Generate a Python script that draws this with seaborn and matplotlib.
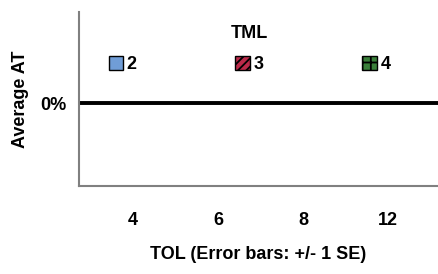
import pandas as pd
import matplotlib
matplotlib.use("Agg")
import matplotlib.pyplot as plt
import seaborn as sns

# data: all group means sit at 0%
tol_levels = ["4", "6", "8", "12"]
tml_levels = ["2", "3", "4"]
avg_at = [0.0, 0.0, 0.0,
          0.0, 0.0, 0.0,
          0.0, 0.0, 0.0,
          0.0, 0.0, 0.0]

colors = ["#5f9be8", "#d3123c", "#2e8b2e"]
hatches = ["", "////", "++"]

df = pd.DataFrame({
    "TOL": [t for t in tol_levels for _ in tml_levels],
    "TML": [m for _ in tol_levels for m in tml_levels],
    "AT": avg_at,
})

sns.set_theme(style="white")
plt.rcParams["font.family"] = ["Liberation Sans", "DejaVu Sans"]
plt.rcParams["font.weight"] = "bold"
plt.rcParams["text.color"] = "black"
plt.rcParams["xtick.color"] = "black"
plt.rcParams["ytick.color"] = "black"
plt.rcParams["axes.labelcolor"] = "black"
plt.rcParams["hatch.linewidth"] = 1.3

FS = 13

fig = plt.figure(figsize=(4.38, 2.74), dpi=100)
ax = fig.add_axes([79 / 438, 88 / 274, 1 - 79 / 438, 174 / 274])

sns.barplot(data=df, x="TOL", y="AT", hue="TML", order=tol_levels,
            hue_order=tml_levels, palette=colors, edgecolor="black",
            linewidth=1, errorbar=None, ax=ax)

handles, labels = ax.get_legend_handles_labels()
for h, hatch in zip(handles, hatches):
    h.set_hatch(hatch)
    h.set_edgecolor("black")
ax.legend(handles, labels, title="TML", ncol=3, frameon=False,
          loc="upper center", bbox_to_anchor=(0.475, 0.965),
          prop={"weight": "bold", "size": FS},
          title_fontproperties={"weight": "bold", "size": FS},
          handlelength=0.8, handleheight=0.8, handletextpad=0.2,
          columnspacing=5.47, borderaxespad=0, labelspacing=0.75)

ax.axhline(0, color="black", linewidth=2.8)
ax.set_ylim(-1.0, 1.1)
ax.set_xlim(-0.635, 3.59)
ax.set_yticks([0])
ax.set_yticklabels(["0%"], fontweight="bold")
ax.set_xticks(range(len(tol_levels)))
ax.set_xticklabels(tol_levels, fontweight="bold")
ax.tick_params(axis="both", length=0, labelsize=FS, pad=9)
ax.tick_params(axis="x", pad=19)
ax.set_xlabel("TOL (Error bars: +/- 1 SE)", fontsize=FS, fontweight="bold",
              labelpad=12)
ax.set_ylabel("Average AT", fontsize=FS, fontweight="bold", labelpad=8)

for side in ["top", "right"]:
    ax.spines[side].set_visible(False)
for side in ["left", "bottom"]:
    ax.spines[side].set_color("#808080")
    ax.spines[side].set_linewidth(1.5)

fig.savefig("out.png", dpi=100)
